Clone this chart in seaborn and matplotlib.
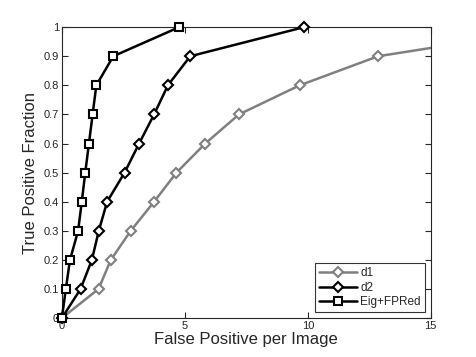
import matplotlib
matplotlib.use("Agg")
import matplotlib.pyplot as plt
import seaborn as sns
import pandas as pd

d1_x = [0, 1.49, 1.99, 2.8, 3.75, 4.66, 5.83, 7.2, 9.67, 12.86, 18.5]
d1_y = [0, 0.1, 0.2, 0.3, 0.4, 0.5, 0.6, 0.7, 0.8, 0.9, 0.975]
d2_x = [0, 0.76, 1.22, 1.5, 1.84, 2.55, 3.14, 3.75, 4.31, 5.22, 9.85]
d2_y = [0, 0.1, 0.2, 0.3, 0.4, 0.5, 0.6, 0.7, 0.8, 0.9, 1.0]
eig_x = [0, 0.16, 0.33, 0.66, 0.81, 0.95, 1.1, 1.25, 1.4, 2.09, 4.77]
eig_y = [0, 0.1, 0.2, 0.3, 0.4, 0.5, 0.6, 0.7, 0.8, 0.9, 1.0]
series_names = ["d1", "d2", "Eig+FPRed"]

sns.set_style("ticks")
plt.rcParams['font.family'] = ['Liberation Sans', 'DejaVu Sans']

fig = plt.figure(figsize=(4.76, 3.57), dpi=100)
ax = fig.add_axes([0.130, 0.109, 0.775, 0.815])

styles = {
    "d1": dict(color="#808080", marker="D", clip=True),
    "d2": dict(color="black", marker="D", clip=False),
    "Eig+FPRed": dict(color="black", marker="s", clip=False),
}
data = {"d1": (d1_x, d1_y), "d2": (d2_x, d2_y), "Eig+FPRed": (eig_x, eig_y)}
for name in series_names:
    x, y = data[name]
    df = pd.DataFrame({"x": x, "y": y})
    st = styles[name]
    sns.lineplot(data=df, x="x", y="y", sort=False, ax=ax, color=st["color"],
                 marker=st["marker"], markersize=5 if st["marker"] == "D" else 5.5,
                 markerfacecolor="white", markeredgecolor=st["color"],
                 markeredgewidth=1.5, linewidth=1.8, label=name,
                 clip_on=st["clip"], zorder=3)

ax.set_xlim(0, 15)
ax.set_ylim(0, 1)
ax.set_xticks([0, 5, 10, 15])
ax.set_yticks([i / 10 for i in range(11)])
ax.set_yticklabels(["0"] + [f"{i/10:.1f}" for i in range(1, 10)] + ["1"])
ax.tick_params(direction="in", length=4, width=0.8, labelsize=8, top=True, right=True, pad=2)
for s in ax.spines.values():
    s.set_linewidth(0.8)
    s.set_visible(True)
ax.set_xlabel("False Positive per Image", fontsize=12, labelpad=1)
ax.set_ylabel("True Positive Fraction", fontsize=12, labelpad=4)
leg = ax.legend(loc="lower right", fontsize=8.5, frameon=True, fancybox=False,
                edgecolor="black", handlelength=3.2, borderpad=0.35, labelspacing=0.2,
                handletextpad=0.3, borderaxespad=0.5)
leg.get_frame().set_linewidth(0.8)
leg.set_zorder(5)

fig.savefig("out.png", dpi=100)
